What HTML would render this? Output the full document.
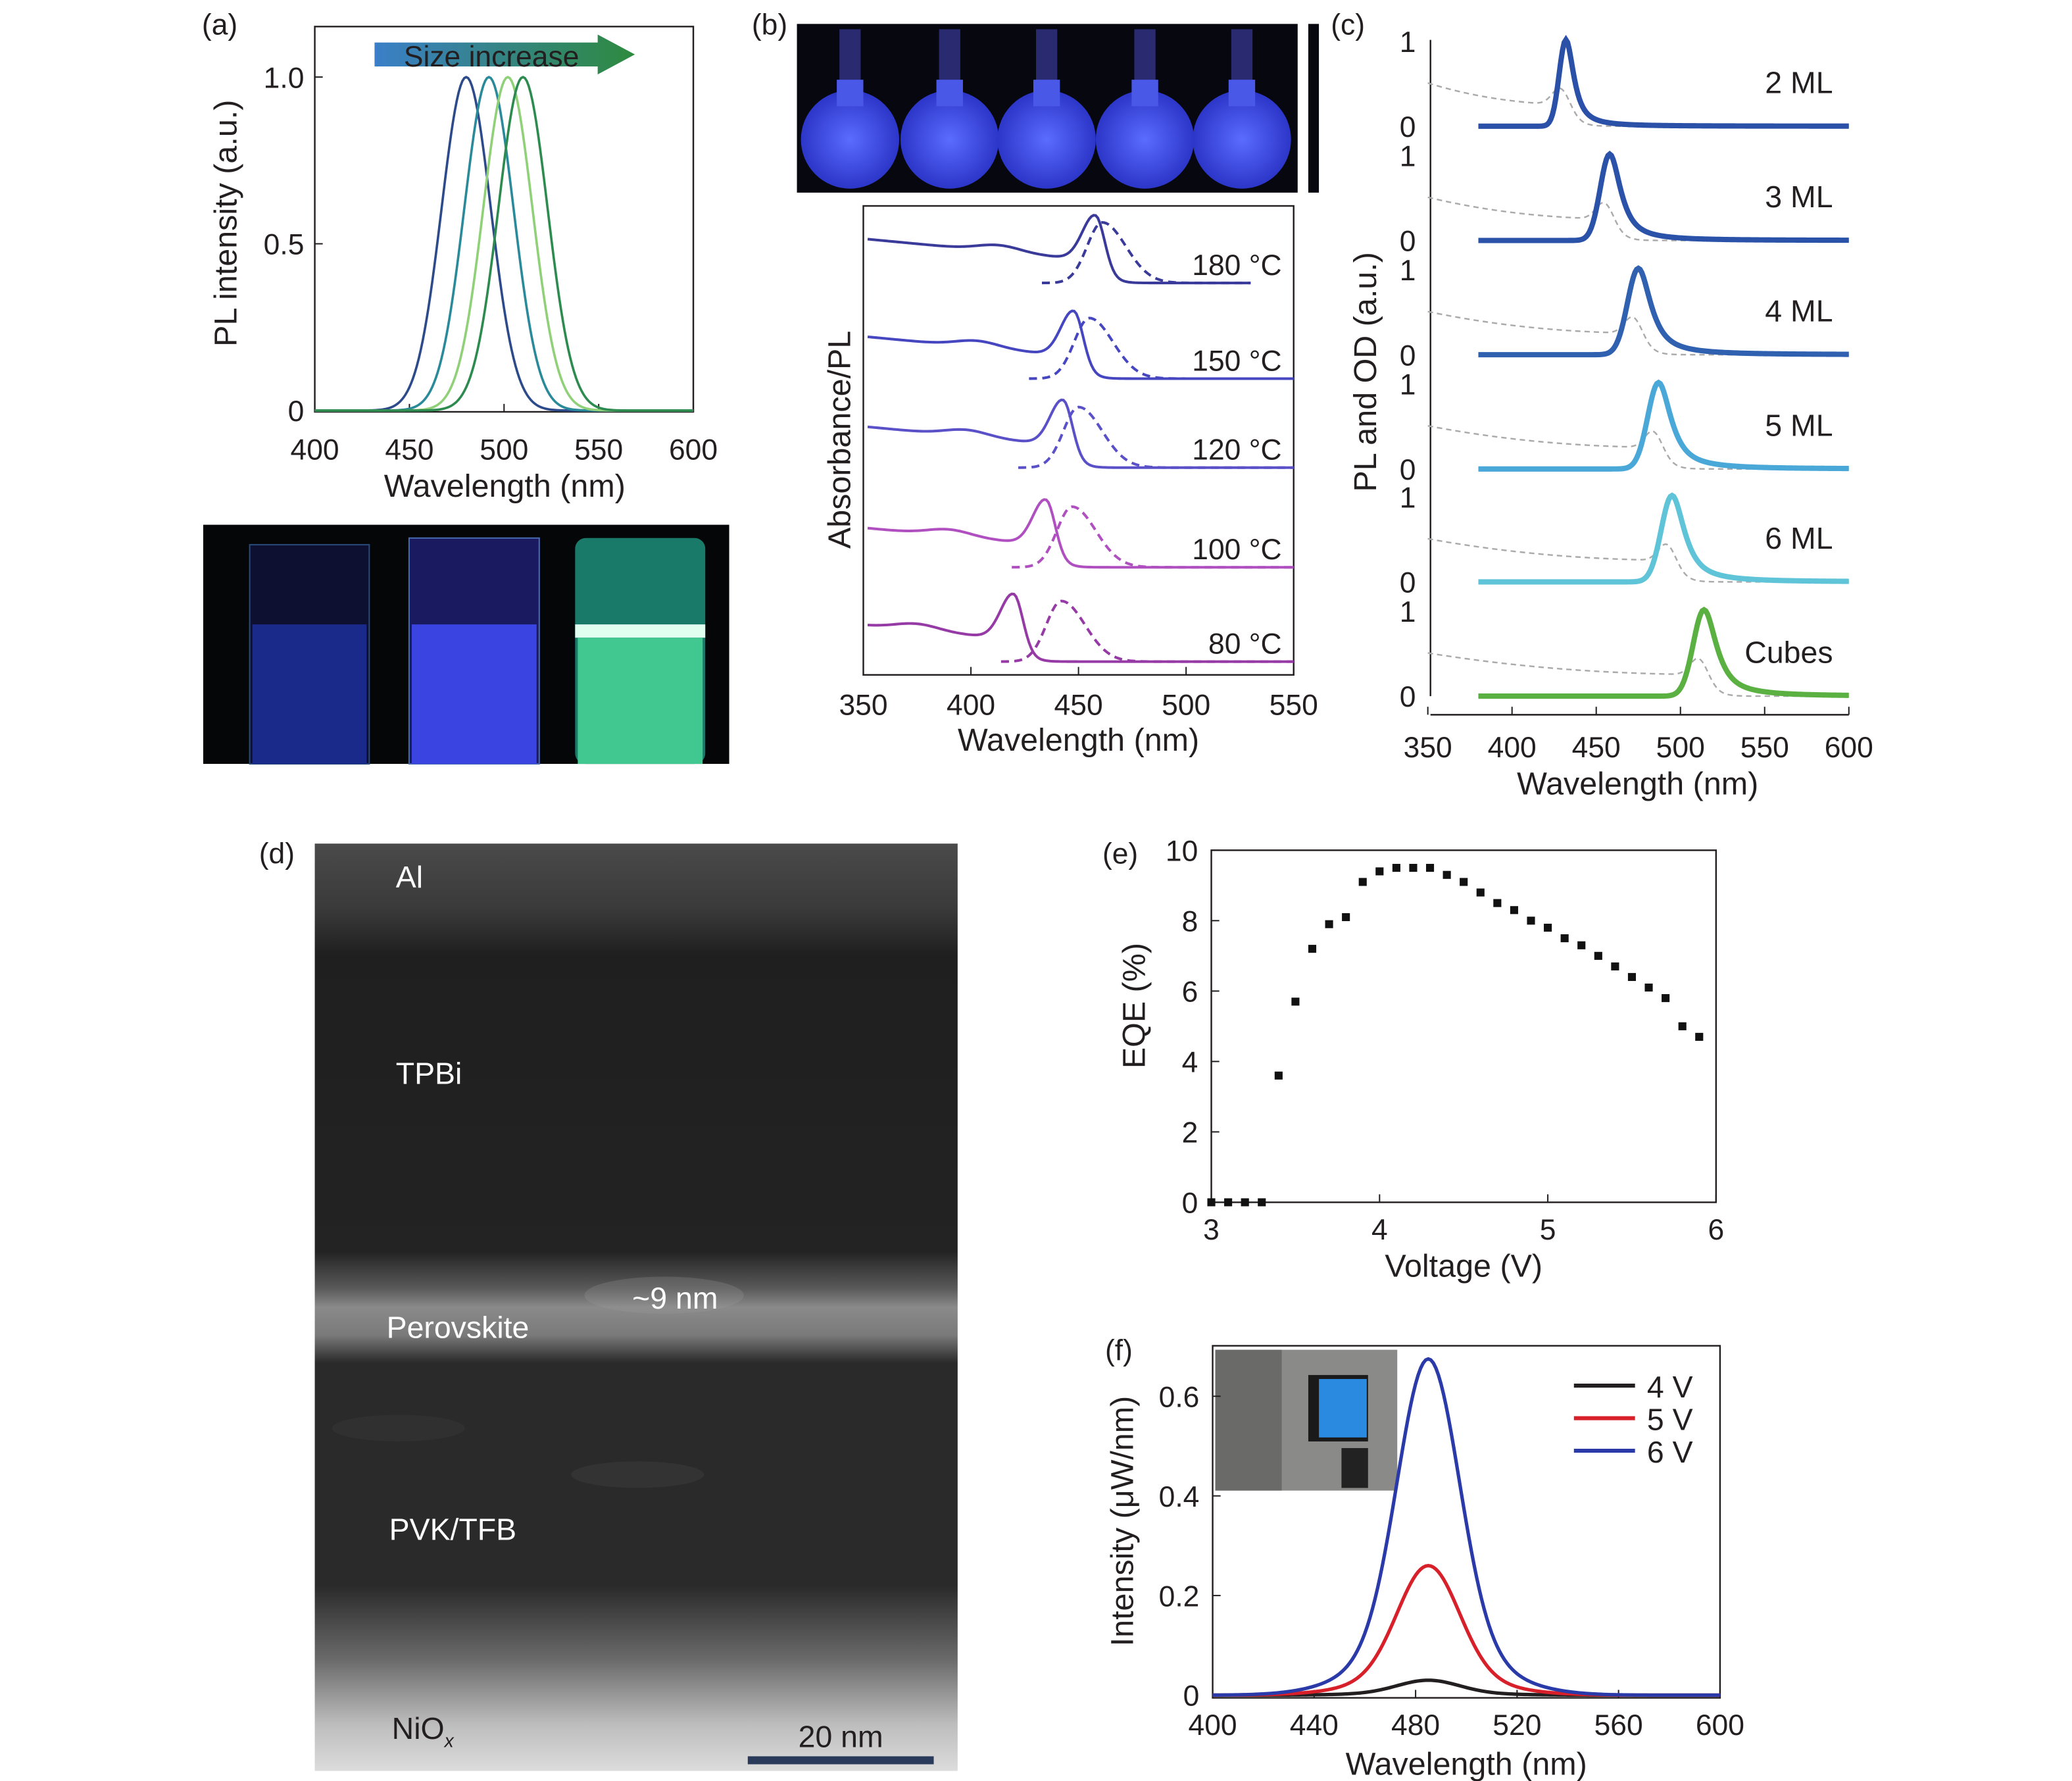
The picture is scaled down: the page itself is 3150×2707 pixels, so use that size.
<!DOCTYPE html>
<html><head><meta charset="utf-8">
<style>
html,body{margin:0;padding:0;background:#fff;}
svg{display:block;}
text{font-family:"Liberation Sans",sans-serif;fill:#231f20;}
</style></head>
<body>
<svg id="fig" width="3150" height="2707" viewBox="0 0 1560 1340.6" preserveAspectRatio="none" xmlns="http://www.w3.org/2000/svg">
<defs>
<linearGradient id="arrowGrad" x1="0" x2="1" y1="0" y2="0">
<stop offset="0" stop-color="#3a7fc8"/><stop offset="1" stop-color="#2e8a3e"/></linearGradient>
<linearGradient id="temGrad" x1="0" x2="0" y1="0" y2="1">
<stop offset="0" stop-color="#4a4a4a"/><stop offset="0.07" stop-color="#3a3a3a"/><stop offset="0.12" stop-color="#1f1f1f"/>
<stop offset="0.44" stop-color="#232323"/><stop offset="0.48" stop-color="#5a5a5a"/><stop offset="0.5" stop-color="#8a8a8a"/>
<stop offset="0.53" stop-color="#7a7a7a"/><stop offset="0.56" stop-color="#2a2a2a"/><stop offset="0.8" stop-color="#2a2a2a"/>
<stop offset="0.88" stop-color="#6a6a6a"/><stop offset="0.95" stop-color="#bdbdbd"/><stop offset="1" stop-color="#dcdcdc"/></linearGradient>
<radialGradient id="flask" cx="0.5" cy="0.5" r="0.5"><stop offset="0" stop-color="#5a6cff"/><stop offset="1" stop-color="#2c36c8"/></radialGradient>
</defs>

<text x="152" y="26" font-size="22">(a)</text>
<text x="566" y="26" font-size="22">(b)</text>
<text x="1002" y="26" font-size="22">(c)</text>
<text x="195" y="650" font-size="22">(d)</text>
<text x="830" y="650" font-size="22">(e)</text>
<text x="832" y="1024" font-size="22">(f)</text>

<g id="pa">
<rect x="237" y="20" width="285" height="290" fill="none" stroke="#231f20" stroke-width="1.2"/>
<g>
<polygon points="282,32 450,32 450,26 478,41 450,56 450,50 282,50" fill="url(#arrowGrad)"/>
<text x="304" y="50" font-size="22">Size increase</text></g>
<text transform="translate(178,168) rotate(-90)" text-anchor="middle" font-size="24">PL intensity (a.u.)</text>
<text x="380" y="374" text-anchor="middle" font-size="24">Wavelength (nm)</text>
</g>
<g>
<rect x="153" y="395" width="396" height="180" fill="#050608"/>
<rect x="188" y="410" width="90" height="165" fill="#0d1030" stroke="#2a4a7a"/>
<rect x="190" y="470" width="86" height="105" fill="#1a2a8a"/>
<rect x="308" y="405" width="98" height="170" fill="#1a1a60" stroke="#4a6ab0"/>
<rect x="310" y="470" width="94" height="105" fill="#3a44e0"/>
<rect x="433" y="405" width="98" height="170" rx="8" fill="#1a7a6a"/>
<rect x="433" y="470" width="98" height="10" fill="#e0fff0"/>
<rect x="435" y="480" width="94" height="95" fill="#40c890"/>
</g>

<g>
<rect x="600" y="18" width="377" height="127" fill="#070710"/>
<rect x="985" y="18" width="8" height="127" fill="#070710"/>
<g id="flasks"></g>
</g>
<g id="pb">
<rect x="650" y="155" width="324" height="353" fill="none" stroke="#231f20" stroke-width="1.2"/>
<text transform="translate(640,331) rotate(-90)" text-anchor="middle" font-size="24">Absorbance/PL</text>
<text x="812" y="565" text-anchor="middle" font-size="24">Wavelength (nm)</text>
</g>

<g id="pc">
<line x1="1077" y1="30" x2="1077" y2="524" stroke="#231f20" stroke-width="1.2"/>
<line x1="1077" y1="538" x2="1392" y2="538" stroke="#231f20" stroke-width="1.2"/>
<text transform="translate(1036,280) rotate(-90)" text-anchor="middle" font-size="24">PL and OD (a.u.)</text>
<text x="1233" y="598" text-anchor="middle" font-size="24">Wavelength (nm)</text>
</g>

<g>
<rect x="237" y="635" width="484" height="698" fill="url(#temGrad)"/>
<ellipse cx="500" cy="975" rx="60" ry="14" fill="#9a9a9a" opacity="0.25"/>
<ellipse cx="480" cy="1110" rx="50" ry="10" fill="#505050" opacity="0.25"/>
<ellipse cx="300" cy="1075" rx="50" ry="10" fill="#454545" opacity="0.25"/>
<text x="298" y="668" font-size="23" style="fill:#fff">Al</text>
<text x="298" y="816" font-size="23" style="fill:#fff">TPBi</text>
<text x="291" y="1007" font-size="23" style="fill:#fff">Perovskite</text>
<text x="476" y="985" font-size="23" style="fill:#fff">~9 nm</text>
<text x="293" y="1159" font-size="23" style="fill:#fff">PVK/TFB</text>
<text x="295" y="1309" font-size="23" style="fill:#231f20">NiO<tspan font-size="14" font-style="italic" dy="6">x</tspan></text>
<text x="633" y="1315" text-anchor="middle" font-size="23" style="fill:#231f20">20 nm</text>
<rect x="563" y="1322" width="140" height="6" fill="#2a3a5a"/>
</g>

<g id="pe">
<rect x="912" y="640" width="380" height="265" fill="none" stroke="#231f20" stroke-width="1.2"/>
<text transform="translate(862,757) rotate(-90)" text-anchor="middle" font-size="24">EQE (%)</text>
<text x="1102" y="961" text-anchor="middle" font-size="24">Voltage (V)</text>
</g>

<g id="pf">
<rect x="913" y="1013" width="382" height="265" fill="none" stroke="#231f20" stroke-width="1.2"/>
<text transform="translate(853,1145) rotate(-90)" text-anchor="middle" font-size="24">Intensity (μW/nm)</text>
<text x="1104" y="1336" text-anchor="middle" font-size="24">Wavelength (nm)</text>
<g>
<rect x="915" y="1016" width="137" height="106" fill="#8a8a88"/>
<rect x="915" y="1016" width="50" height="106" fill="#6a6a68"/>
<rect x="985" y="1035" width="45" height="50" fill="#1a1a1a"/>
<rect x="993" y="1038" width="36" height="44" fill="#2a8ae0"/>
<rect x="1010" y="1090" width="20" height="30" fill="#222"/>
</g>
</g>
</svg>
<script>
var NS="http://www.w3.org/2000/svg";
var aTicksX=[400,450,500,550,600];
var aTicksY=[0,0.5,1.0];
var aTickLabelsY=["0","0.5","1.0"];
var aPeaks=[480,492,502,510];
var aColors=["#2d4a8a","#2a8a9a","#90d078","#2e8b50"];
var bTicksX=[350,400,450,500,550];
var bTemps=["180 °C","150 °C","120 °C","100 °C","80 °C"];
var bAbsPeaks=[458,448,443,435,420];
var bPlPeaks=[461,455,450,447,442];
var bColors=["#3a3a9a","#4646c0","#5a50c8","#b050c0","#963aa6"];
var cTicksX=[350,400,450,500,550,600];
var cLabels=["2 ML","3 ML","4 ML","5 ML","6 ML","Cubes"];
var cPeaks=[432,458,475,487,495,514];
var cWidths=[5,7,8,8,8,8];
var cColors=["#2a50a8","#2a52a8","#3060b0","#4aa8d8","#60c4d8","#5ab040"];
var eTicksX=[3,4,5,6];
var eTicksY=[0,2,4,6,8,10];
var eVolt=[3.0,3.1,3.2,3.3,3.4,3.5,3.6,3.7,3.8,3.9,4.0,4.1,4.2,4.3,4.4,4.5,4.6,4.7,4.8,4.9,5.0,5.1,5.2,5.3,5.4,5.5,5.6,5.7,5.8,5.9];
var eEQE=[0,0,0,0,3.6,5.7,7.2,7.9,8.1,9.1,9.4,9.5,9.5,9.5,9.3,9.1,8.8,8.5,8.3,8.0,7.8,7.5,7.3,7.0,6.7,6.4,6.1,5.8,5.0,4.7];
var fTicksX=[400,440,480,520,560,600];
var fTicksY=[0,0.2,0.4,0.6];
var fSeries=["4 V","5 V","6 V"];
var fPeakHeights=[0.03,0.26,0.675];
var fPeakPos=[485,485,485];
var fColors=["#231f20","#d8202a","#2a3aa8"];

function mk(tag,attrs,parent){var e=document.createElementNS(NS,tag);for(var k in attrs)e.setAttribute(k,attrs[k]);parent.appendChild(e);return e;}
function gauss(x,m,s){return Math.exp(-(x-m)*(x-m)/(2*s*s));}
function lor(x,m,w){return 1/(1+((x-m)/w)*((x-m)/w));}
function pathFrom(xs,fx,fy,fv){var d="";xs.forEach(function(x,i){d+=(i?"L":"M")+fx(x).toFixed(2)+","+fy(fv(x)).toFixed(2);});return d;}
function range(a,b,s){var r=[];for(var x=a;x<=b+1e-9;x+=s)r.push(x);return r;}
function txt(parent,x,y,s,size,anchor){var t=mk("text",{x:x,y:y,"font-size":size,"text-anchor":anchor||"middle"},parent);t.textContent=s;return t;}

var pa=document.getElementById("pa");
var ax=function(v){return 237+(v-400)*285/200;};
var ay=function(v){return 309-v*251;};
aTicksX.forEach(function(v){
 var t=txt(pa,ax(v),346,String(v),22);
 
 
 mk("line",{x1:ax(v),x2:ax(v),y1:310,y2:304,stroke:"#231f20"},pa);
});
aTicksY.forEach(function(v,i){
 var t=txt(pa,229,ay(v)+8,aTickLabelsY[i],22,"end");
 
 
 mk("line",{x1:237,x2:243,y1:ay(v),y2:ay(v),stroke:"#231f20"},pa);
});
aPeaks.forEach(function(p,i){
 var e=mk("path",{d:pathFrom(range(400,600,1),ax,ay,function(x){return gauss(x,p,13);}),fill:"none",stroke:aColors[i],"stroke-width":1.8},pa);
 
 
});

var fl=document.getElementById("flasks");
[640,715,788,862,935].forEach(function(cx){
 mk("rect",{x:cx-8,y:22,width:16,height:50,fill:"#2a2a70"},fl);
 mk("circle",{cx:cx,cy:105,r:37,fill:"url(#flask)"},fl);
 mk("rect",{x:cx-10,y:60,width:20,height:20,fill:"#4a58e8"},fl);
});

var pb=document.getElementById("pb");
var bx=function(v){return 650+(v-350)*324/200;};
var bBase=[213,285,352,427,498];
bTicksX.forEach(function(v){
 var t=txt(pb,bx(v),538,String(v),22);
 
 
 mk("line",{x1:bx(v),x2:bx(v),y1:508,y2:502,stroke:"#231f20"},pb);
});
bTemps.forEach(function(lab,i){
 var base=bBase[i],p=bAbsPeaks[i],q=bPlPeaks[i];
 var yf=function(v){return base-v*48;};
 var absF=function(x){var s=1/(1+Math.exp((x-p-6)/3));return s*(0.35+0.35*(p-x)/110+0.1*gauss(x,p-45,10))+0.75*gauss(x,p,6)*(x<p?1:0)+0.75*gauss(x,p,4)*(x>=p?1:0);};
 var end=i===0?530:550;
 var e=mk("path",{d:pathFrom(range(352,end,1),bx,yf,absF),fill:"none",stroke:bColors[i],"stroke-width":2},pb);
 
 
 var e2=mk("path",{d:pathFrom(range(q-28,end,1),bx,yf,function(x){return 0.95*(x<q?gauss(x,q,7):gauss(x,q,11));}),fill:"none",stroke:bColors[i],"stroke-width":2,"stroke-dasharray":"6,4"},pb);
 
 
 var t=txt(pb,965,base-6,lab,22,"end");
 
 
});

var pc=document.getElementById("pc");
var cx_=function(v){return 1075+(v-350)*317/250;};
var cBase=[95,181,267,353,438,524];
cTicksX.forEach(function(v){
 var t=txt(pc,cx_(v),570,String(v),22);
 
 
 mk("line",{x1:cx_(v),x2:cx_(v),y1:538,y2:532,stroke:"#231f20"},pc);
});
cLabels.forEach(function(lab,i){
 var base=cBase[i],p=cPeaks[i];
 var yf=function(v){return base-v*65;};
 var t1=txt(pc,1066,base-56,"1",22,"end");
 
 
 var t0=txt(pc,1066,base+8,"0",22,"end");
 
 
 var dash=mk("path",{d:pathFrom(range(350,600,1),cx_,yf,function(x){var s=1/(1+Math.exp((x-p-4)/4));var r=Math.max(0,(p+10-x))/(p-340);return s*(0.2+0.25*Math.pow(r,2.2)+0.05)+0.22*gauss(x,p-3,5);}),fill:"none",stroke:"#aaa","stroke-width":1.2,"stroke-dasharray":"4,3"},pc);
 
 
 var w=cWidths[i];
 var e=mk("path",{d:pathFrom(range(380,600,1),cx_,yf,function(x){return x<p?gauss(x,p,w*0.8):lor(x,p,w*1.1)*0.9+0.1*gauss(x,p,w);}),fill:"none",stroke:cColors[i],"stroke-width":4},pc);
 
 
 var t=txt(pc,1380,base-25,lab,23,"end");
 
 
});

var pe=document.getElementById("pe");
var ex=function(v){return 912+(v-3)*380/3;};
var ey=function(v){return 905-v*26.5;};
eTicksX.forEach(function(v){
 var t=txt(pe,ex(v),933,String(v),22);
 
 
 mk("line",{x1:ex(v),x2:ex(v),y1:905,y2:899,stroke:"#231f20"},pe);
});
eTicksY.forEach(function(v){
 var t=txt(pe,902,ey(v)+8,String(v),22,"end");
 
 
 mk("line",{x1:912,x2:918,y1:ey(v),y2:ey(v),stroke:"#231f20"},pe);
});
eVolt.forEach(function(v,i){
 var r=mk("rect",{x:ex(v)-3,y:ey(eEQE[i])-3,width:6,height:6,fill:"#111"},pe);
 
 
});

var pf=document.getElementById("pf");
var fx=function(v){return 913+(v-400)*382/200;};
var fy=function(v){return 1276-v*375;};
fTicksX.forEach(function(v){
 var t=txt(pf,fx(v),1306,String(v),22);
 
 
 mk("line",{x1:fx(v),x2:fx(v),y1:1278,y2:1272,stroke:"#231f20"},pf);
});
fTicksY.forEach(function(v){
 var t=txt(pf,903,fy(v)+8,String(v),22,"end");
 
 
 mk("line",{x1:913,x2:919,y1:fy(v),y2:fy(v),stroke:"#231f20"},pf);
});
fSeries.forEach(function(lab,i){
 var h=fPeakHeights[i],p=fPeakPos[i];
 var e=mk("path",{d:pathFrom(range(400,600,1),fx,fy,function(x){return h*(0.85*gauss(x,p,12)+0.15*gauss(x,p,24));}),fill:"none",stroke:fColors[i],"stroke-width":2.6},pf);
 
 
 var ly=1043+i*24.5;
 var l=mk("line",{x1:1185,x2:1231,y1:ly,y2:ly,stroke:fColors[i],"stroke-width":3},pf);
 
 
 var t=txt(pf,1240,ly+9,lab,23,"start");
 
 
});
</script>
</body></html>
